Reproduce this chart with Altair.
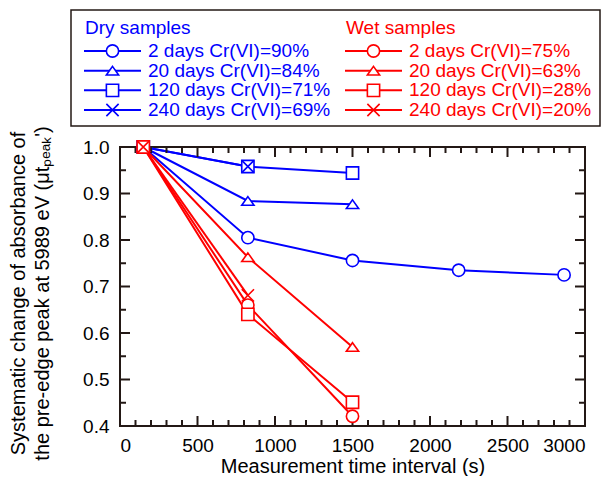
import altair as alt
import pandas as pd

# ---------------- data ----------------
dry_labels = ["2 days Cr(VI)=90%", "20 days Cr(VI)=84%", "120 days Cr(VI)=71%", "240 days Cr(VI)=69%"]
wet_labels = ["2 days Cr(VI)=75%", "20 days Cr(VI)=63%", "120 days Cr(VI)=28%", "240 days Cr(VI)=20%"]
kinds = ["circle", "triangle", "square", "cross"]

dry_2_t = [150, 825, 1500, 2185, 2865]
dry_2_v = [1.0, 0.805, 0.756, 0.735, 0.725]
dry_20_t = [150, 825, 1500]
dry_20_v = [1.0, 0.884, 0.877]
dry_120_t = [150, 825, 1500]
dry_120_v = [1.0, 0.958, 0.944]
dry_240_t = [150, 825]
dry_240_v = [1.0, 0.958]

wet_2_t = [150, 825, 1500]
wet_2_v = [1.0, 0.660, 0.421]
wet_20_t = [150, 825, 1500]
wet_20_v = [1.0, 0.763, 0.570]
wet_120_t = [150, 825, 1500]
wet_120_v = [1.0, 0.640, 0.451]
wet_240_t = [150, 825]
wet_240_v = [1.0, 0.681]

x_major = [0, 500, 1000, 1500, 2000, 2500, 3000]
x_minor = [v for v in range(100, 3000, 100) if v % 500 != 0]
y_major = [0.4, 0.5, 0.6, 0.7, 0.8, 0.9, 1.0]
y_minor = [0.45, 0.55, 0.65, 0.75, 0.85, 0.95]

x_title = "Measurement time interval (s)"
y_title = ["Systematic change of absorbance of", "the pre-edge peak at 5989 eV (\u03bct\u209a\u2091\u2090\u2096')"]
headings = ["Dry samples", "Wet samples"]

# ---------------- tables ----------------
series = [
    ("Dry", dry_labels[0], "circle", dry_2_t, dry_2_v),
    ("Dry", dry_labels[1], "triangle", dry_20_t, dry_20_v),
    ("Dry", dry_labels[2], "square", dry_120_t, dry_120_v),
    ("Dry", dry_labels[3], "cross", dry_240_t, dry_240_v),
    ("Wet", wet_labels[0], "circle", wet_2_t, wet_2_v),
    ("Wet", wet_labels[1], "triangle", wet_20_t, wet_20_v),
    ("Wet", wet_labels[2], "square", wet_120_t, wet_120_v),
    ("Wet", wet_labels[3], "cross", wet_240_t, wet_240_v),
]
rows = []
for i, (g, lab, k, ts, vs) in enumerate(series):
    for t, v in zip(ts, vs):
        rows.append({"group": g, "series": f"{g} {lab}", "kind": k, "t": t, "v": v, "idx": i})
df = pd.DataFrame(rows)

leg_rows = []
for ci, (g, labs) in enumerate([("Dry", dry_labels), ("Wet", wet_labels)]):
    for ri, (lab, k) in enumerate(zip(labs, kinds)):
        leg_rows.append({"group": g, "label": lab, "kind": k, "col": ci, "row": ri})
leg_df = pd.DataFrame(leg_rows)
head_df = pd.DataFrame({"group": ["Dry", "Wet"], "text": headings, "col": [0, 1], "row": [0, 0]})
box_df = pd.DataFrame({"box": [0]})

# ---------------- styles ----------------
BLUE, RED, AX = "#0000ff", "#ff0000", "#231815"
FONT = "Liberation Sans"
shape_paths = ["circle", "M0,-0.7L1,0.7L-1,0.7Z", "square", "M-1,-1L1,1M-1,1L1,-1"]
W, H = 465, 279
MAJ, MIN = 10, 6
LEG_FS = 19

color_enc = alt.Color("group:N", scale=alt.Scale(domain=["Dry", "Wet"], range=[BLUE, RED]), legend=None)
shape_enc = alt.Shape("kind:N", scale=alt.Scale(domain=kinds, range=shape_paths), legend=None)
xs = alt.Scale(domain=[0, 3000], nice=False, zero=False)
ys = alt.Scale(domain=[0.4, 1.0], nice=False, zero=False)

base = alt.Chart(df)

lines = base.mark_line(strokeWidth=2).encode(
    x=alt.X("t:Q", scale=xs, axis=alt.Axis(orient="bottom", values=x_major, format="d", ticks=False,
                                            tickSize=0, domain=False, grid=False, labelFontSize=19,
                                            labelPadding=10, labelColor="black", title=x_title,
                                            titleFontSize=20, titleFontWeight="normal", titleY=30,
                                            titleColor="black")),
    y=alt.Y("v:Q", scale=ys, axis=alt.Axis(orient="left", values=y_major, format=".1f", ticks=False,
                                            tickSize=0, domain=False, grid=False, labelFontSize=19,
                                            labelPadding=11, labelColor="black", title=y_title,
                                            titleFontSize=20, titleFontWeight="normal", titlePadding=30,
                                            titleLineHeight=24, titleColor="black", titleY=146)),
    color=color_enc,
    detail="series:N",
)

points = base.mark_point(filled=False, fill="white", fillOpacity=1, opacity=1, size=150, strokeWidth=1.6).encode(
    x=alt.X("t:Q", scale=xs),
    y=alt.Y("v:Q", scale=ys),
    color=color_enc,
    shape=shape_enc,
    order=alt.Order("idx:Q"),
)


def xticks(values, y0, y1):
    return alt.Chart(pd.DataFrame({"t": values})).mark_rule(color=AX, strokeWidth=2).encode(
        x=alt.X("t:Q", scale=xs), y=alt.value(y0), y2=alt.value(y1))


def yticks(values, x0, x1):
    return alt.Chart(pd.DataFrame({"v": values})).mark_rule(color=AX, strokeWidth=2).encode(
        y=alt.Y("v:Q", scale=ys), x=alt.value(x0), x2=alt.value(x1))


ticks = [
    xticks(x_major, H, H - MAJ), xticks(x_minor, H, H - MIN),
    xticks(x_major, 0, MAJ), xticks(x_minor, 0, MIN),
    yticks(y_major, 0, MAJ), yticks(y_minor, 0, MIN),
    yticks(y_major, W, W - MAJ), yticks(y_minor, W, W - MIN),
]

main = alt.layer(lines, *ticks, points)

# ---------------- legend ----------------
lx = alt.X("col:Q", scale=alt.Scale(domain=[0, 1], range=[-36, 225]), axis=None)
ly = alt.Y("row:Q", scale=alt.Scale(domain=[0, 3], range=[-96, -37]), axis=None)

box = alt.Chart(box_df).mark_rect(fill="white", fillOpacity=0, stroke=AX, strokeWidth=1.5).encode(
    x=alt.value(-49), x2=alt.value(480), y=alt.value(-137), y2=alt.value(-21))
leg_rule = alt.Chart(leg_df).mark_rule(strokeWidth=2, x2Offset=57).encode(
    x=lx, x2=alt.X2("col:Q"), y=ly, color=color_enc)
leg_pt = alt.Chart(leg_df).mark_point(filled=False, fill="white", fillOpacity=1, opacity=1, size=150,
                                      strokeWidth=1.6, xOffset=28.5).encode(
    x=lx, y=ly, color=color_enc, shape=shape_enc)
leg_txt = alt.Chart(leg_df).mark_text(align="left", baseline="middle", fontSize=LEG_FS, font=FONT,
                                      xOffset=64).encode(
    x=lx, y=ly, text="label:N", color=color_enc)
leg_head = alt.Chart(head_df).mark_text(align="left", baseline="alphabetic", fontSize=LEG_FS, font=FONT,
                                        xOffset=1, yOffset=-17).encode(
    x=lx, y=ly, text="text:N", color=color_enc)

legend = alt.layer(box, leg_rule, leg_pt, leg_txt, leg_head)

chart = alt.layer(main, legend).resolve_scale(x="independent", y="independent").properties(
    width=W, height=H,
    autosize=alt.AutoSizeParams(type="none"),
    padding={"left": 112, "top": 139, "right": 16, "bottom": 50},
).configure_view(stroke=AX, strokeWidth=2).configure_axis(
    labelFont=FONT, titleFont=FONT
).configure_text(font=FONT)

chart.save("out.html", embed_options={"renderer": "svg", "actions": False})
